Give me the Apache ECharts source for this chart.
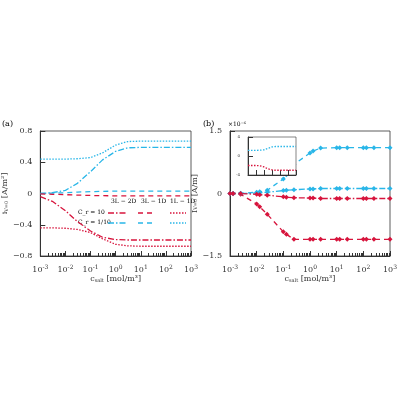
<!DOCTYPE html><html><head><meta charset="utf-8"><script src="https://cdn.jsdelivr.net/npm/echarts@6/dist/echarts.min.js"></script></head><body style="margin:0"><div id="c" style="width:400px;height:400px"></div><script>
const xa=[1e-3,3e-3,1e-2,3e-2,0.1,0.3,1,3,10,30,100,300,1000];
const a_blue_dd=[0.0,0.01,0.04,0.13,0.28,0.43,0.54,0.585,0.59,0.59,0.59,0.59,0.59];
const a_red_dd=[-0.04,-0.1,-0.22,-0.36,-0.48,-0.56,-0.59,-0.595,-0.595,-0.595,-0.595,-0.595,-0.595];
const a_blue_dot=[0.44,0.44,0.44,0.445,0.46,0.52,0.62,0.665,0.67,0.67,0.67,0.67,0.67];
const a_red_dot=[-0.44,-0.44,-0.445,-0.46,-0.5,-0.58,-0.65,-0.67,-0.675,-0.675,-0.675,-0.675,-0.675];
const a_blue_da=[0.0,0.005,0.01,0.018,0.024,0.028,0.03,0.03,0.03,0.03,0.03,0.03,0.03];
const a_red_da=[-0.005,-0.01,-0.015,-0.02,-0.025,-0.028,-0.03,-0.03,-0.03,-0.03,-0.03,-0.03,-0.03];
const xb=[1e-3,1.3e-3,2.5e-3,1e-2,1.3e-2,2.5e-2,0.1,0.13,0.25,1,1.3,2.5,10,13,25,100,130,250,1000];
const b_blue_da=[0,0,0.005,0.03,0.04,0.08,0.35,0.45,0.7,0.97,1.02,1.09,1.1,1.1,1.1,1.1,1.1,1.1,1.1];
const b_red_da=[0,-0.005,-0.02,-0.25,-0.32,-0.5,-0.92,-0.98,-1.1,-1.1,-1.1,-1.1,-1.1,-1.1,-1.1,-1.1,-1.1,-1.1,-1.1];
const b_blue_dd=[0,0,0,0.01,0.02,0.03,0.07,0.08,0.09,0.11,0.11,0.12,0.12,0.12,0.12,0.12,0.12,0.12,0.12];
const b_red_dd=[0,0,0,-0.02,-0.03,-0.04,-0.08,-0.09,-0.1,-0.11,-0.11,-0.12,-0.12,-0.12,-0.12,-0.12,-0.12,-0.12,-0.12];
const in_blue=[1.2,1.2,1.2,1.22,1.3,1.6,1.9,2,2,2,2,2,2];
const in_red=[-2,-2,-2,-2.05,-2.3,-2.7,-2.9,-3,-3,-3,-3,-3,-3];
const B='#29b6e8',R='#d7143c';
const sup={s:{fontSize:6,verticalAlign:'top',padding:[0,0,6,0]}};
const lf=v=>{const e=Math.round(Math.log10(v));return '10{s|'+e+'}';};
const ax=(gi,extra)=>Object.assign({type:'log',logBase:10,min:1e-3,max:1e3,gridIndex:gi,axisLine:{onZero:false,lineStyle:{color:'#333'}},axisTick:{inside:true},minorTick:{show:true,splitNumber:9},splitLine:{show:false},axisLabel:{formatter:lf,rich:sup,fontSize:8,color:'#333',fontFamily:'DejaVu Serif'}},extra||{});
const pair=(d,x)=>x.map((v,i)=>[v,d[i]]);
const ln=(name,d,x,c,type,xi,yi,sym)=>({type:'line',name,data:pair(d,x),xAxisIndex:xi,yAxisIndex:yi,symbol:sym||'none',symbolSize:5,showSymbol:!!sym,lineStyle:{color:c,width:1.3,type:type},itemStyle:{color:c},z:3});
const dd=[6,2,1.5,2],da=[5,4],dot=[1.5,1.5];
const yf={fontFamily:'DejaVu Serif',fontSize:8,color:'#333'};
const sub={b:{fontSize:5,verticalAlign:'bottom',fontFamily:'DejaVu Serif'}};
const ylab={formatter:v=>v==0?'0':(v<0?'−':'')+Math.abs(v).toFixed(1),fontFamily:'DejaVu Serif',fontSize:8,color:'#333'};
const opt={animation:false,textStyle:{fontFamily:'DejaVu Serif'},
grid:[{left:37,top:131,width:154,height:125,show:true,borderColor:'#333',borderWidth:0.8},{left:230,top:131,width:165,height:125,show:true,borderColor:'#333',borderWidth:0.8},{left:248,top:137,width:48,height:38,show:true,backgroundColor:'#fff',borderColor:'#333',borderWidth:0.6,z:5}],
xAxis:[ax(0,{name:'c{b|salt} [mol/m³]',nameLocation:'middle',nameGap:16,nameTextStyle:Object.assign({rich:sub},yf)}),ax(1,{name:'c{b|salt} [mol/m³]',nameLocation:'middle',nameGap:16,nameTextStyle:Object.assign({rich:sub},yf)}),
ax(2,{axisLabel:{show:false},minorTick:{show:false},z:6})],
yAxis:[{gridIndex:0,min:-0.8,max:0.8,interval:0.4,axisTick:{inside:true},splitLine:{show:false},axisLine:{show:true,lineStyle:{color:'#333'}},axisLabel:ylab,name:'i{b|V=0} [A/m²]',nameLocation:'middle',nameGap:22,nameTextStyle:Object.assign({rich:sub},yf)},
{gridIndex:1,min:-1.5,max:1.5,interval:1.5,axisTick:{inside:true},splitLine:{show:false},axisLine:{show:true,lineStyle:{color:'#333'}},axisLabel:ylab,name:'I{b|V=0} [A/m]',nameLocation:'middle',nameGap:22,nameTextStyle:Object.assign({rich:sub},yf)},
{gridIndex:2,min:-4,max:4,interval:4,axisTick:{inside:true},splitLine:{show:false},axisLine:{show:true,lineStyle:{color:'#333'}},axisLabel:{fontSize:4,color:'#333'},z:6}],
series:[ln('a1',a_blue_dd,xa,B,dd,0,0),ln('a2',a_red_dd,xa,R,dd,0,0),ln('a3',a_blue_dot,xa,B,dot,0,0),ln('a4',a_red_dot,xa,R,dot,0,0),ln('a5',a_blue_da,xa,B,da,0,0),ln('a6',a_red_da,xa,R,da,0,0),
ln('b1',b_blue_da,xb,B,da,1,1,'diamond'),ln('b2',b_red_da,xb,R,da,1,1,'diamond'),ln('b3',b_blue_dd,xb,B,dd,1,1,'diamond'),ln('b4',b_red_dd,xb,R,dd,1,1,'diamond'),
Object.assign(ln('i1',in_blue,xa,B,dot,2,2),{z:7}),Object.assign(ln('i2',in_red,xa,R,dot,2,2),{z:7})],
graphic:[{type:'text',left:2,top:120,style:{text:'(a)',font:'8px DejaVu Serif'}},{type:'text',left:203,top:120,style:{text:'(b)',font:'8px DejaVu Serif'}},
{type:'text',left:228,top:121,style:{text:'×10⁻⁶',font:'6px DejaVu Serif'}},
{type:'text',x:111,y:198,style:{text:'3L − 2D',font:'6px DejaVu Serif'}},
{type:'text',x:141,y:198,style:{text:'3L − 1D',font:'6px DejaVu Serif'}},
{type:'text',x:170,y:198,style:{text:'1L − 1D',font:'6px DejaVu Serif'}},
{type:'text',x:78,y:209,style:{text:'C_r = 10',font:'6px DejaVu Serif'}},
{type:'text',x:78,y:219,style:{text:'C_r = 1/10',font:'6px DejaVu Serif'}},
{type:'line',shape:{x1:108,y1:213,x2:126,y2:213},style:{stroke:R,lineDash:dd,lineWidth:1.3}},{type:'line',shape:{x1:138,y1:213,x2:152,y2:213},style:{stroke:R,lineDash:da,lineWidth:1.3}},{type:'line',shape:{x1:170,y1:213,x2:186,y2:213},style:{stroke:R,lineDash:dot,lineWidth:1.3}},
{type:'line',shape:{x1:108,y1:223,x2:126,y2:223},style:{stroke:B,lineDash:dd,lineWidth:1.3}},{type:'line',shape:{x1:138,y1:223,x2:152,y2:223},style:{stroke:B,lineDash:da,lineWidth:1.3}},{type:'line',shape:{x1:170,y1:223,x2:186,y2:223},style:{stroke:B,lineDash:dot,lineWidth:1.3}}]};
echarts.init(document.getElementById('c')).setOption(opt);
</script></body></html>
